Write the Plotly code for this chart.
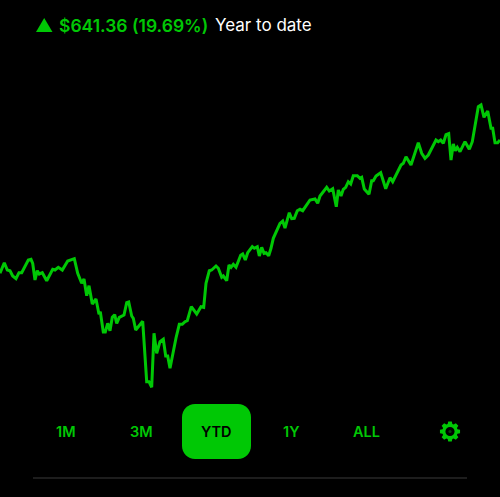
import math
import plotly.graph_objects as go

W, H = 500, 497
GREEN = "#00c805"

sessions = [0,4.3,7.3,10,12.7,16,19,21.7,28.3,31,32.7,35,37.3,39.3,42.3,46.7,52.7,55,58.3,62.3,67.7,74.3,77.7,81.7,84,86.7,89,92.3,96,99,100.3,103.3,105.3,107.7,110,112.3,114.7,116.7,119.3,124,126.7,128.7,131.7,133.3,135.7,142.7,146.7,149,151.7,154,156.7,160,163.3,165.7,167.7,170,
176,179.3,182.3,185,187.3,191.3,196.7,201,203.7,206,209.3,211.7,216,218.3,221.7,223.3,226.7,229,231,233.3,236,240.7,242.7,245.3,247.7,252.3,254.3,257.3,259.3,261.7,264,266,268.7,271,273.3,280,282.7,285,289.3,291.7,294.3,297.3,300,302.7,310,315,317.7,320,326.7,329.3,332.7,
336.3,338.3,341,343.3,345.7,348.3,350.7,353.3,357.3,360,361.7,364.3,369,371.7,373.3,376,380.7,385.7,390,392.7,401,403.3,406,411,418.3,421.7,425,428.3,436,438.3,440.7,443.3,446,448.7,451,453.3,455.3,457.3,460,465,469.3,472.3,478.3,481,484,487.7,491,492.7,495,497.7,500]

portfolio_value = [3248.5,3301.5,3265,3261.5,3235,3221.5,3251.5,3251.5,3315,3318.5,3298.5,3215,3261.5,3245,3251.5,3211.5,3268.5,3265,3278.5,3265,3310,3321.5,3248.5,3198.5,3220,3136.5,3186.5,3095,3120,3043.5,3056.5,2955,2955,2998.5,2961.5,3028.5,3041.5,2998.5,3028.5,3040,3101.5,3105,3035,3023.5,2965,3008.5,2706.5,2706.5,2678.5,2948.5,2848.5,2906.5,2918.5,2835,2835,2773.5,
2925,2993.5,2993.5,3006.5,3011.5,3081.5,3045,3081.5,3078.5,3198.5,3261.5,3265,3285,3273.5,3228.5,3235,3211.5,3290,3278.5,3293.5,3278.5,3338.5,3345,3315,3351.5,3381.5,3373.5,3381.5,3335,3378.5,3348.5,3351.5,3336.5,3373.5,3423.5,3498.5,3510,3475,3551.5,3521.5,3523.5,3561.5,3568.5,3561.5,3615,3620,3598.5,3635,3678.5,3660,3671.5,
3581.5,3665,3635,3668.5,3678.5,3706.5,3695,3736.5,3736.5,3723.5,3728.5,3670,3643.5,3711.5,3711.5,3735,3751.5,3671.5,3726.5,3706.5,3790,3798.5,3831.5,3790,3901.5,3848.5,3823.5,3840,3915,3906.5,3915,3898.5,3941.5,3946.5,3815,3895,3861.5,3878.5,3856.5,3906.5,3868.5,3906.5,4081.5,4090,4028.5,4060,3973.5,3973.5,3901.5,3901.5,3915]

range_labels = ["1M", "3M", "YTD", "1Y", "ALL"]
range_centers = [66, 141, 216.5, 291, 366]
change_text = "$641.36 (19.69%)"
period_text = "Year to date"


def px(x):
    return x / W


def py(y):
    return 1 - y / H


def rounded_rect(x0, y0, x1, y1, r):
    k = r * 0.45
    pts = [
        f"M{px(x0+r)},{py(y0)}", f"L{px(x1-r)},{py(y0)}",
        f"C{px(x1-k)},{py(y0)} {px(x1)},{py(y0+k)} {px(x1)},{py(y0+r)}",
        f"L{px(x1)},{py(y1-r)}",
        f"C{px(x1)},{py(y1-k)} {px(x1-k)},{py(y1)} {px(x1-r)},{py(y1)}",
        f"L{px(x0+r)},{py(y1)}",
        f"C{px(x0+k)},{py(y1)} {px(x0)},{py(y1-k)} {px(x0)},{py(y1-r)}",
        f"L{px(x0)},{py(y0+r)}",
        f"C{px(x0)},{py(y0+k)} {px(x0+k)},{py(y0)} {px(x0+r)},{py(y0)}Z",
    ]
    return "".join(pts)


def gear(cx, cy, r_out, r_root, teeth=8):
    pts = []
    step = 2 * math.pi / teeth
    for i in range(teeth):
        a = i * step - math.pi / 2
        for da, r in [(-0.30, r_root), (-0.17, r_out), (0.17, r_out), (0.30, r_root)]:
            ang = a + da * step * 1.3
            pts.append((cx + r * math.cos(ang), cy + r * math.sin(ang)))
    return "M" + "L".join(f"{px(x)},{py(y)}" for x, y in pts) + "Z"


def circle(cx, cy, r, color):
    return dict(type="circle", xref="paper", yref="paper",
                x0=px(cx - r), x1=px(cx + r), y0=py(cy + r), y1=py(cy - r),
                fillcolor=color, line_width=0)


fig = go.Figure(go.Scatter(x=sessions, y=portfolio_value, mode="lines",
                           line=dict(color=GREEN, width=3, shape="linear"),
                           hoverinfo="skip", cliponaxis=False))

shapes = [
    dict(type="path", xref="paper", yref="paper", path=rounded_rect(182, 404, 251, 459, 13),
         fillcolor=GREEN, line_width=0),
    dict(type="path", xref="paper", yref="paper",
         path=f"M{px(36)},{py(32)}L{px(52.5)},{py(32)}L{px(44.2)},{py(18)}Z",
         fillcolor=GREEN, line_width=0),
    dict(type="line", xref="paper", yref="paper", x0=px(33), x1=px(467), y0=py(478), y1=py(478),
         line=dict(color="#3a3a3a", width=1)),
    dict(type="path", xref="paper", yref="paper", path=gear(450, 431.5, 10.2, 7.8),
         fillcolor=GREEN, line_width=0),
    circle(450, 431.5, 4.6, "#000000"),
    circle(450, 431.5, 1.6, "#0a3a0c"),
]

annotations = [
    dict(x=px(57), y=py(25), text=change_text, font=dict(color=GREEN, size=17.5, weight=600)),
    dict(x=px(213), y=py(25), text=period_text, font=dict(color="#ffffff", size=17, weight=400)),
]
for label, c in zip(range_labels, range_centers):
    annotations.append(dict(x=px(c), y=py(431), text=label, xanchor="center",
                            font=dict(color="#000000" if label == "YTD" else GREEN, size=14.5, weight=600)))
for a in annotations:
    a.update(xref="paper", yref="paper", showarrow=False, yanchor="middle")
    a.setdefault("xanchor", "left")

fig.update_layout(
    width=W, height=H, margin=dict(l=0, r=0, t=0, b=0),
    paper_bgcolor="#000000", plot_bgcolor="#000000",
    font=dict(family="Inter, Roboto, sans-serif"),
    showlegend=False, shapes=shapes, annotations=annotations,
    xaxis=dict(range=[0, 500], visible=False, fixedrange=True),
    yaxis=dict(range=[2130, 4615], visible=False, fixedrange=True),
)
fig.write_html("out.html", config={"displayModeBar": False},
               default_width=f"{W}px", default_height=f"{H}px",
               post_script="document.body.style.margin='0';document.body.style.background='#000';document.documentElement.style.overflow='hidden';")
